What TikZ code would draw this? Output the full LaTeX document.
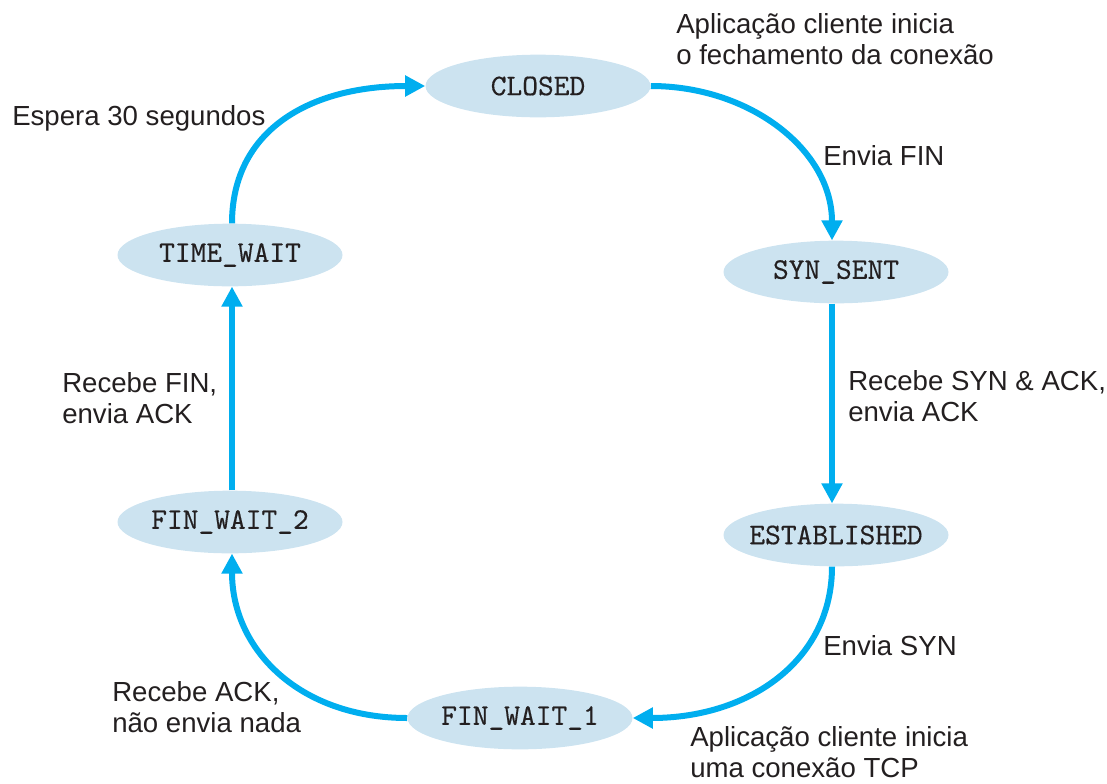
\documentclass[tikz,border=0pt]{standalone}
\usepackage{fontspec}
\setmainfont{Liberation Sans}
\newfontfamily\statefont{lmmono10-regular.otf}[FakeBold=0.4]
\usetikzlibrary{shapes.geometric,arrows.meta}
\definecolor{statefill}{HTML}{CCE3F0}
\definecolor{arrowblue}{HTML}{00AEEF}
\definecolor{txt}{HTML}{231F20}
\begin{document}
\begin{tikzpicture}[x=0.75pt,y=-0.75pt,
  state/.style={ellipse,fill=statefill,minimum width=168.75pt,minimum height=47pt,inner xsep=-40pt,inner ysep=0pt,
    font=\statefont\fontsize{22.5}{26}\selectfont,text=txt},
  trans/.style={line width=4.5pt,draw=arrowblue,-{Triangle[length=15pt,width=15pt]}},
  lbl/.style={anchor=west,inner sep=0pt,align=left,text=txt,font=\fontsize{20.7}{23.5}\selectfont}]
\useasboundingbox (0,0) rectangle (1107,783);
\node[state] (closed) at (538,86) {CLOSED};
\node[state] (synsent) at (836,272) {SYN\_SENT};
\node[state] (est) at (836,535) {ESTABLISHED};
\node[state] (fw1) at (520,718) {FIN\_WAIT\_1};
\node[state] (fw2) at (230,522) {FIN\_WAIT\_2};
\node[state] (tw) at (230,255) {TIME\_WAIT};

\draw[trans] (closed.east) .. controls (750,86) and (832,150) .. ([xshift=-3pt]synsent.north);
\draw[trans] ([xshift=-3pt]synsent.south) -- ([xshift=-3pt]est.north);
\draw[trans] ([xshift=-3pt]est.south) .. controls (832,660) and (750,718) .. (fw1.east);
\draw[trans] (fw1.west) .. controls (300,718) and (232,650) .. ([xshift=1.5pt]fw2.south);
\draw[trans] ([xshift=1.5pt]fw2.north) -- ([xshift=1.5pt]tw.south);
\draw[trans] ([xshift=1.5pt]tw.north) .. controls (232,130) and (310,86) .. (closed.west);

\node[lbl] (l1) at (676,39) {Aplicação cliente inicia\\o fechamento da conexão};
\node[lbl] (l2) at (823,156) {Envia FIN};
\node[lbl] (l3) at (848,396) {Recebe SYN \& ACK,\\envia ACK};
\node[lbl] (l4) at (823,646) {Envia SYN};
\node[lbl] (l5) at (690,752) {Aplicação cliente inicia\\uma conexão TCP};
\node[lbl] (l6) at (112,707) {Recebe ACK,\\não envia nada};
\node[lbl] (l7) at (62,398) {Recebe FIN,\\envia ACK};
\node[lbl] (l8) at (12,118) {Espera 30 segundos};
\end{tikzpicture}
\end{document}
